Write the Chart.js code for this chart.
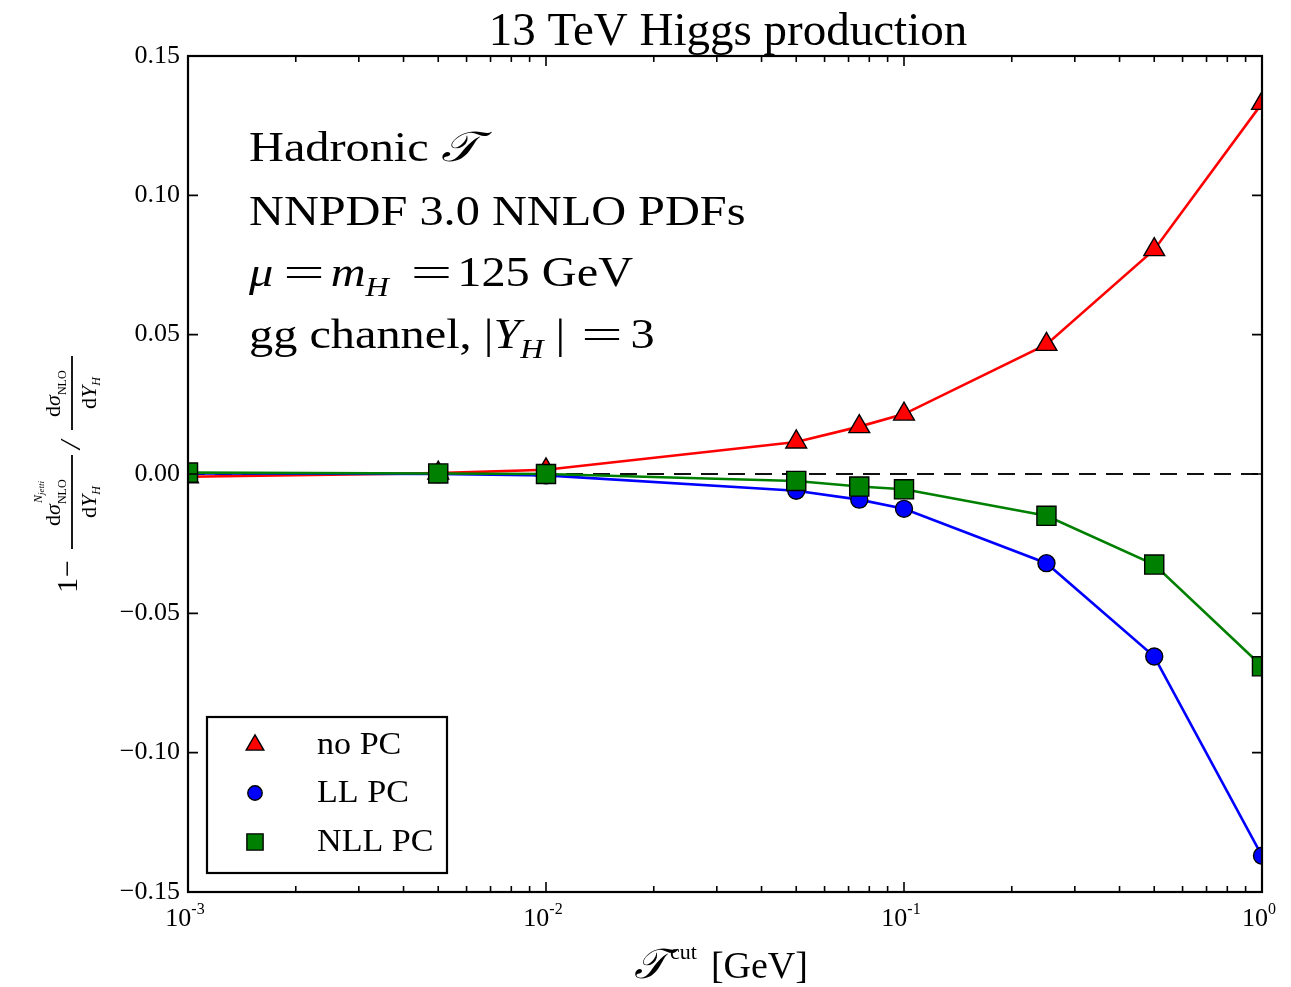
<!DOCTYPE html>
<html>
<head>
<meta charset="utf-8">
<script src="https://cdn.jsdelivr.net/npm/chart.js@4.4.1/dist/chart.umd.min.js"></script>
<style>
  html, body { margin: 0; padding: 0; background: #fff; }
  #wrap { width: 1291px; height: 987px; position: relative; }
</style>
</head>
<body>
<div id="wrap"><canvas id="c"></canvas></div>
<script>
// values
const tauCut = [0.001, 0.005, 0.01, 0.05, 0.075, 0.1, 0.25, 0.5, 1.0];
const noPC   = [-0.001, 0.0003, 0.0015, 0.0115, 0.017, 0.0215, 0.0465, 0.0805, 0.133];
const llPC   = [0.0002, 0.0, -0.0005, -0.006, -0.0092, -0.0125, -0.032, -0.0655, -0.137];
const nllPC  = [0.0005, 0.0002, 0.0, -0.0025, -0.0045, -0.0055, -0.015, -0.0325, -0.069];

const yTicks = [-0.15, -0.10, -0.05, 0.00, 0.05, 0.10, 0.15];
const yTickLabels = ['\u22120.15', '\u22120.10', '\u22120.05', '0.00', '0.05', '0.10', '0.15'];
const xDecades = [-3, -2, -1, 0];

const seriesNames = ['no PC', 'LL PC', 'NLL PC'];

const SERIF = '"Liberation Serif", "DejaVu Serif", serif';
const SCRIPT_T = '\uD835\uDCAF';

function pts(vals) {
    return tauCut.map((t, i) => ({ x: t, y: vals[i] }));
}

// draws runs of text: [text, font, dy, gapAfter, sxOverride], stretched horizontally by sx
function runs(ctx, x, y, parts, sx) {
    for (const p of parts) {
        const s = p[4] || sx || 1;
        ctx.font = p[1];
        ctx.save();
        ctx.translate(x, y + (p[2] || 0));
        ctx.scale(s, 1);
        ctx.fillText(p[0], 0, 0);
        ctx.restore();
        x += ctx.measureText(p[0]).width * s + (p[3] || 0);
    }
    return x;
}

function runsWidth(ctx, parts, sx) {
    let w = 0;
    for (const p of parts) {
        ctx.font = p[1];
        w += ctx.measureText(p[0]).width * (p[4] || sx || 1) + (p[3] || 0);
    }
    return w;
}

const plotDecor = {
    id: 'plotDecor',
    beforeDatasetsDraw(chart) {
        const ctx = chart.ctx;
        const a = chart.chartArea;
        const y0 = chart.scales.y.getPixelForValue(0);
        ctx.save();
        ctx.strokeStyle = '#111';
        ctx.lineWidth = 2.2;
        ctx.setLineDash([17, 10]);
        ctx.beginPath();
        ctx.moveTo(a.left, y0);
        ctx.lineTo(a.right, y0);
        ctx.stroke();
        ctx.restore();
    },
    afterDraw(chart) {
        const ctx = chart.ctx;
        const a = chart.chartArea;
        const xs = chart.scales.x, ys = chart.scales.y;
        ctx.save();
        ctx.fillStyle = '#000';
        ctx.strokeStyle = '#000';

        // frame
        ctx.lineWidth = 2.2;
        ctx.strokeRect(a.left, a.top, a.right - a.left, a.bottom - a.top);

        // y ticks (inward, both sides) and labels
        ctx.lineWidth = 1.6;
        ctx.textAlign = 'right';
        ctx.textBaseline = 'middle';
        ctx.font = '26px ' + SERIF;
        yTicks.forEach((v, i) => {
            const py = ys.getPixelForValue(v);
            ctx.beginPath();
            ctx.moveTo(a.left, py); ctx.lineTo(a.left + 10, py);
            ctx.moveTo(a.right, py); ctx.lineTo(a.right - 10, py);
            ctx.stroke();
            ctx.fillText(yTickLabels[i], a.left - 8, py);
        });

        // x ticks, log major + minor
        xDecades.forEach(k => {
            const px = xs.getPixelForValue(Math.pow(10, k));
            ctx.beginPath();
            ctx.moveTo(px, a.bottom); ctx.lineTo(px, a.bottom - 10);
            ctx.moveTo(px, a.top); ctx.lineTo(px, a.top + 10);
            ctx.stroke();
            if (k < 0) {
                for (let m = 2; m <= 9; m++) {
                    const mx = xs.getPixelForValue(m * Math.pow(10, k));
                    ctx.beginPath();
                    ctx.moveTo(mx, a.bottom); ctx.lineTo(mx, a.bottom - 6);
                    ctx.moveTo(mx, a.top); ctx.lineTo(mx, a.top + 6);
                    ctx.stroke();
                }
            }
            // label 10^k
            ctx.textAlign = 'left';
            ctx.textBaseline = 'alphabetic';
            const sup = k === 0 ? '0' : '-' + (-k);
            const parts = [['10', '26px ' + SERIF, 0], [sup, '16px ' + SERIF, -12]];
            const w = runsWidth(ctx, parts);
            runs(ctx, px - w / 2 - 3, a.bottom + 34, parts);
        });

        // title
        ctx.textAlign = 'center';
        ctx.textBaseline = 'alphabetic';
        ctx.font = '47px ' + SERIF;
        ctx.fillText('13 TeV Higgs production', 728, 45);

        // info text block
        ctx.textAlign = 'left';
        const big = '42px ' + SERIF, bigI = 'italic 42px ' + SERIF, subI = 'italic 28px ' + SERIF;
        const tx = 249, SX = 1.15, EQ = 1.75;
        runs(ctx, tx, 161, [['Hadronic ', big], [SCRIPT_T, bigI]], SX);
        runs(ctx, tx, 225, [['NNPDF 3.0 NNLO PDFs', big]], SX);
        runs(ctx, tx, 286, [['\u03BC', bigI, 0, 10], ['=', big, 0, 6, EQ], ['m', bigI], ['H', subI, 10, 22], ['=', big, 0, 5, EQ], ['125 GeV', big]], SX);
        runs(ctx, tx, 348, [['gg channel, |', big], ['Y', bigI], ['H', subI, 10, 12], ['|', big, 0, 16], ['=', big, 0, 8, EQ], ['3', big]], SX);

        // x axis label
        let ex = runs(ctx, 634, 978, [[SCRIPT_T, 'italic 42px ' + SERIF, 0, 4]]);
        ex = runs(ctx, ex, 959, [['cut', '22px ' + SERIF, 0, 14]]);
        runs(ctx, ex, 978, [['[GeV]', '38px ' + SERIF]]);

        // y axis label (rotated, with fractions)
        ctx.save();
        ctx.translate(72, 473);
        ctx.rotate(-Math.PI / 2);
        ctx.textBaseline = 'alphabetic';
        ctx.lineWidth = 1.8;
        runs(ctx, -120, 5, [['1', '30px ' + SERIF, 0, 1], ['\u2212', '30px ' + SERIF]]);
        // first fraction
        ctx.beginPath(); ctx.moveTo(-76, 0); ctx.lineTo(18, 0); ctx.stroke();
        const num1 = [['d', '22px ' + SERIF], ['\u03C3', 'italic 22px ' + SERIF]];
        const n1w = runsWidth(ctx, num1) + 26;
        let q = runs(ctx, -29 - n1w / 2, -12, num1);
        runs(ctx, q, -6, [['NLO', '12px ' + SERIF]]);
        runs(ctx, q + 1, -30, [['N', 'italic 12px ' + SERIF], ['jetti', 'italic 9px ' + SERIF, 2]]);
        const den = [['d', '22px ' + SERIF], ['Y', 'italic 22px ' + SERIF], ['H', 'italic 12px ' + SERIF, 4]];
        const dw = runsWidth(ctx, den);
        runs(ctx, -29 - dw / 2, 24, den);
        // slash
        runs(ctx, 24, 8, [['/', 'italic 30px ' + SERIF]]);
        // second fraction
        ctx.beginPath(); ctx.moveTo(43, 0); ctx.lineTo(117, 0); ctx.stroke();
        const n2w = runsWidth(ctx, num1) + 26;
        q = runs(ctx, 80 - n2w / 2, -12, num1);
        runs(ctx, q, -6, [['NLO', '12px ' + SERIF]]);
        runs(ctx, 80 - dw / 2, 24, den);
        ctx.restore();

        // legend
        const lx = 207, ly = 717, lw = 240, lh = 156;
        ctx.fillStyle = '#fff';
        ctx.fillRect(lx, ly, lw, lh);
        ctx.lineWidth = 2.2;
        ctx.strokeStyle = '#000';
        ctx.strokeRect(lx, ly, lw, lh);
        const rowsY = [745, 793, 842];
        chart.data.datasets.forEach((ds, i) => {
            ctx.fillStyle = ds.pointBackgroundColor;
            ctx.strokeStyle = '#000';
            ctx.lineWidth = 1.4;
            Chart.helpers.drawPoint(ctx, {
                pointStyle: ds.pointStyle, radius: ds.pointRadius * 0.85, rotation: 0, borderWidth: 1.4
            }, 255, rowsY[i]);
            ctx.fillStyle = '#000';
            ctx.textBaseline = 'middle';
            ctx.textAlign = 'left';
            runs(ctx, 317, rowsY[i] + 1, [[ds.label, '31px ' + SERIF]], 1.1);
        });
        ctx.restore();
    }
};

const ds = (label, vals, color, style, r, order) => ({
    label: label,
    data: pts(vals),
    borderColor: color,
    borderWidth: 2.6,
    pointStyle: style,
    pointRadius: r,
    pointBackgroundColor: color,
    pointBorderColor: '#000',
    pointBorderWidth: 1.4,
    tension: 0,
    order: order,
    clip: 1
});

new Chart(document.getElementById('c'), {
    type: 'line',
    data: {
        datasets: [
            ds(seriesNames[0], noPC, '#ff0000', 'triangle', 12, 2),
            ds(seriesNames[1], llPC, '#0000ff', 'circle', 8.5, 1),
            ds(seriesNames[2], nllPC, '#008000', 'rect', 13.5, 0)
        ]
    },
    options: {
        responsive: true,
        maintainAspectRatio: false,
        animation: false,
        layout: { padding: { left: 188, right: 29, top: 56, bottom: 95 } },
        plugins: { legend: { display: false }, tooltip: { enabled: false } },
        scales: {
            x: {
                type: 'logarithmic', min: 0.001, max: 1,
                ticks: { display: false }, grid: { display: false }, border: { display: false },
                afterFit: s => { s.height = 0; }
            },
            y: {
                type: 'linear', min: -0.15, max: 0.15,
                ticks: { display: false }, grid: { display: false }, border: { display: false },
                afterFit: s => { s.width = 0; }
            }
        }
    },
    plugins: [plotDecor]
});
</script>
</body>
</html>
